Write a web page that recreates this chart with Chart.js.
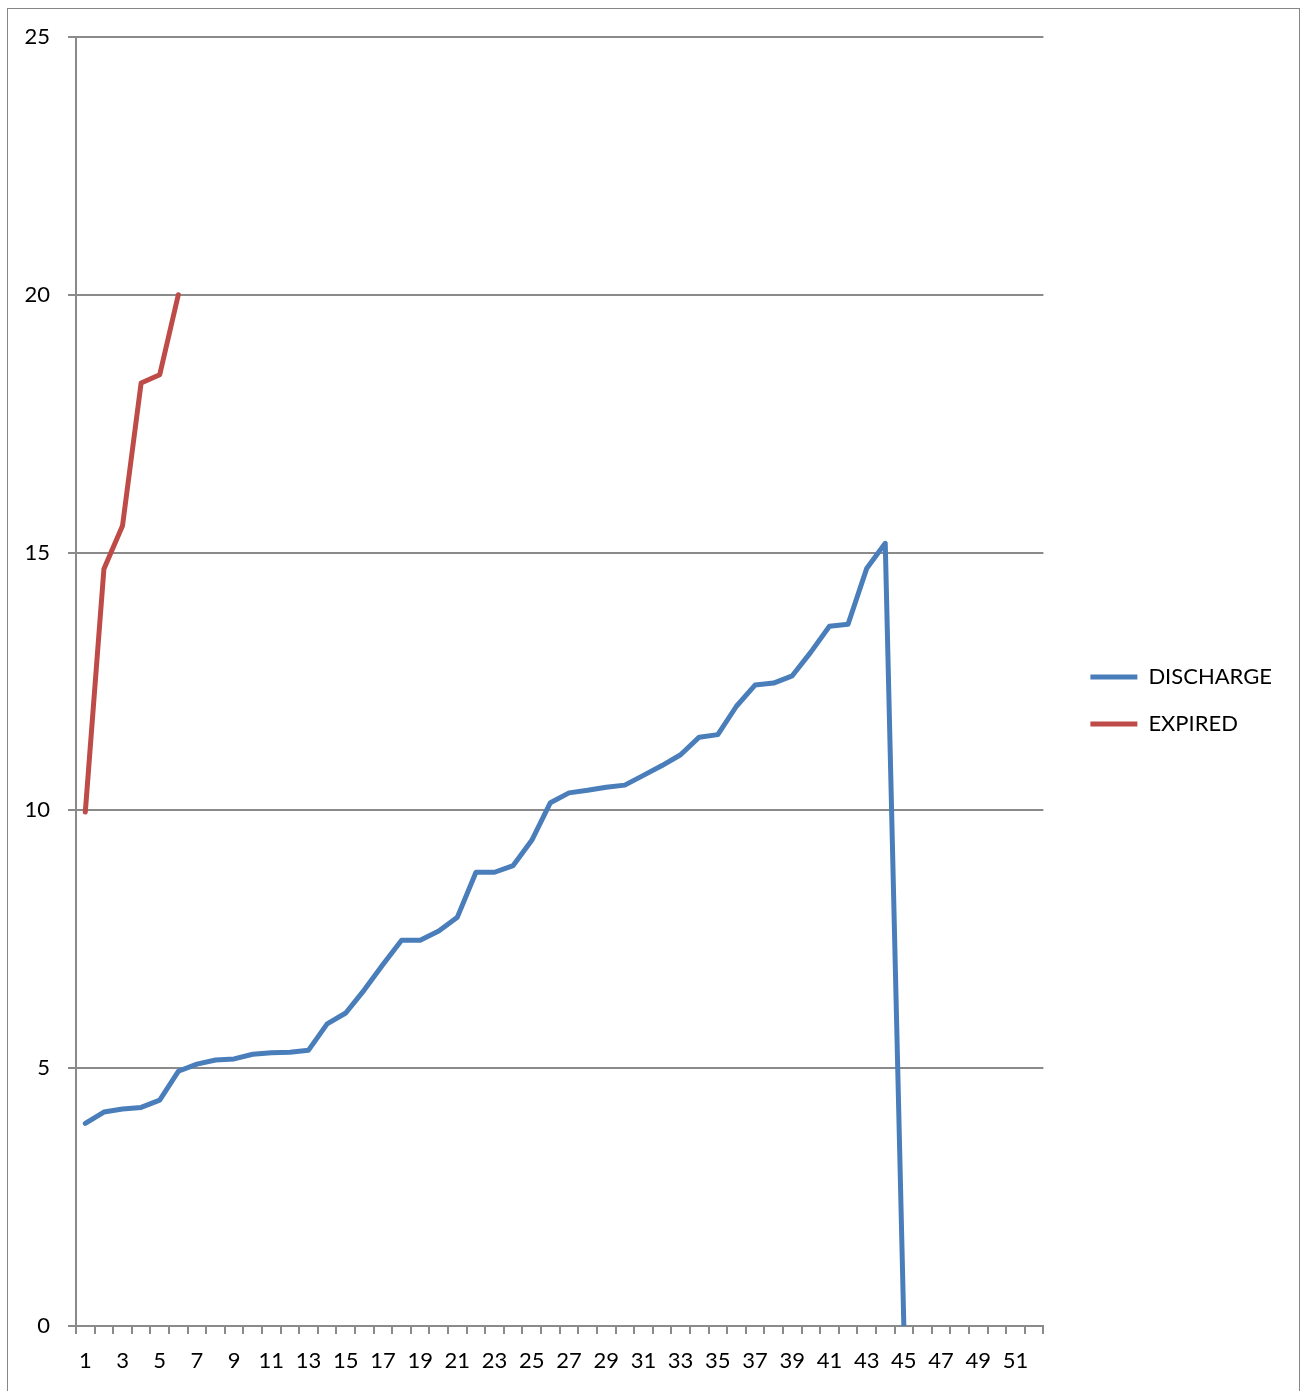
<!DOCTYPE html>
<html>
<head>
<meta charset="utf-8">
<script src="https://cdn.jsdelivr.net/npm/chart.js@4.4.1/dist/chart.umd.min.js"></script>
<style>
  html, body { margin: 0; padding: 0; background: #ffffff; overflow: hidden; }
  #frame {
    position: absolute; left: 7px; top: 8px;
    width: 1291px; height: 1420px;
    border: 1px solid #868686; box-sizing: content-box;
  }
  #chart { position: absolute; left: 0; top: 0; }
</style>
</head>
<body>
<div id="frame"></div>
<canvas id="chart" width="1302" height="1391"></canvas>
<script>
// Category labels along the x axis
const categories = [
  '1','2','3','4','5','6','7','8','9','10','11','12','13',
  '14','15','16','17','18','19','20','21','22','23','24','25','26',
  '27','28','29','30','31','32','33','34','35','36','37','38','39',
  '40','41','42','43','44','45','46','47','48','49','50','51','52'
];

// Series values
const discharge = [
  3.93, 4.15, 4.21, 4.24, 4.38, 4.94, 5.08, 5.16, 5.18, 5.27,
  5.30, 5.31, 5.35, 5.86, 6.07, 6.52, 7.01, 7.48, 7.48, 7.66,
  7.93, 8.80, 8.80, 8.93, 9.42, 10.15, 10.34, 10.39, 10.45, 10.49,
  10.68, 10.87, 11.08, 11.42, 11.47, 12.02, 12.43, 12.47, 12.61, 13.07,
  13.57, 13.61, 14.69, 15.18, 0
];
const expired = [9.97, 14.68, 15.52, 18.29, 18.45, 20.0];

// Value axis ticks
const yTicks = [0, 5, 10, 15, 20, 25];

const GRID = '#8a8a8a';

// Nudges the legend away from the plot edge and up a little
const legendOffset = {
  id: 'legendOffset',
  afterLayout(chart, args, opts) {
    const lg = chart.legend;
    if (lg) {
      lg.left += opts.dx; lg.right += opts.dx;
      lg.top += opts.dy; lg.bottom += opts.dy;
    }
  }
};

function draw() {
  Chart.defaults.font.family = 'Lato';
  Chart.defaults.font.size = 22;
  Chart.defaults.color = '#000000';

  new Chart(document.getElementById('chart'), {
    type: 'line',
    data: {
      labels: categories,
      datasets: [
        {
          label: 'DISCHARGE',
          data: discharge,
          borderColor: '#4A7EBB',
          backgroundColor: '#4A7EBB',
          borderWidth: 5,
          pointRadius: 0,
          tension: 0,
          borderJoinStyle: 'round',
          borderCapStyle: 'round',
          spanGaps: false
        },
        {
          label: 'EXPIRED',
          data: expired,
          borderColor: '#BE4B48',
          backgroundColor: '#BE4B48',
          borderWidth: 5,
          pointRadius: 0,
          tension: 0,
          borderJoinStyle: 'round',
          borderCapStyle: 'round'
        }
      ]
    },
    options: {
      responsive: false,
      animation: false,
      devicePixelRatio: 1,
      layout: { padding: { left: 0, right: 42, top: 37, bottom: 0 } },
      plugins: {
        legendOffset: { dx: 22, dy: -13.5 },
        tooltip: { enabled: false },
        legend: {
          position: 'right',
          align: 'center',
          labels: {
            usePointStyle: true,
            pointStyle: 'line',
            pointStyleWidth: 47,
            padding: 25,
            color: '#000000',
            font: { family: 'Lato', size: 22 }
          }
        }
      },
      scales: {
        x: {
          type: 'category',
          offset: true,
          afterFit(scale) { scale.height = 65; },
          grid: {
            offset: true,
            drawOnChartArea: false,
            drawTicks: true,
            tickLength: 8,
            color: GRID,
            lineWidth: 2
          },
          border: { display: true, color: GRID, width: 2 },
          ticks: {
            autoSkip: false,
            maxRotation: 0,
            minRotation: 0,
            padding: 14,
            color: '#000000',
            font: { family: 'Lato', size: 22 },
            callback(value, index) { return index % 2 === 0 ? categories[index] : ''; }
          }
        },
        y: {
          min: yTicks[0],
          max: yTicks[yTicks.length - 1],
          afterFit(scale) { scale.width = 76; },
          afterBuildTicks(scale) { scale.ticks = yTicks.map(v => ({ value: v })); },
          grid: {
            color: GRID,
            lineWidth: 2,
            drawTicks: true,
            tickLength: 8
          },
          border: { display: true, color: GRID, width: 2 },
          ticks: {
            padding: 18,
            color: '#000000',
            font: { family: 'Lato', size: 22 }
          }
        }
      }
    },
    plugins: [legendOffset]
  });
}

if (document.fonts && document.fonts.load) {
  document.fonts.load('22px Lato').then(draw, draw);
} else {
  draw();
}
</script>
</body>
</html>
